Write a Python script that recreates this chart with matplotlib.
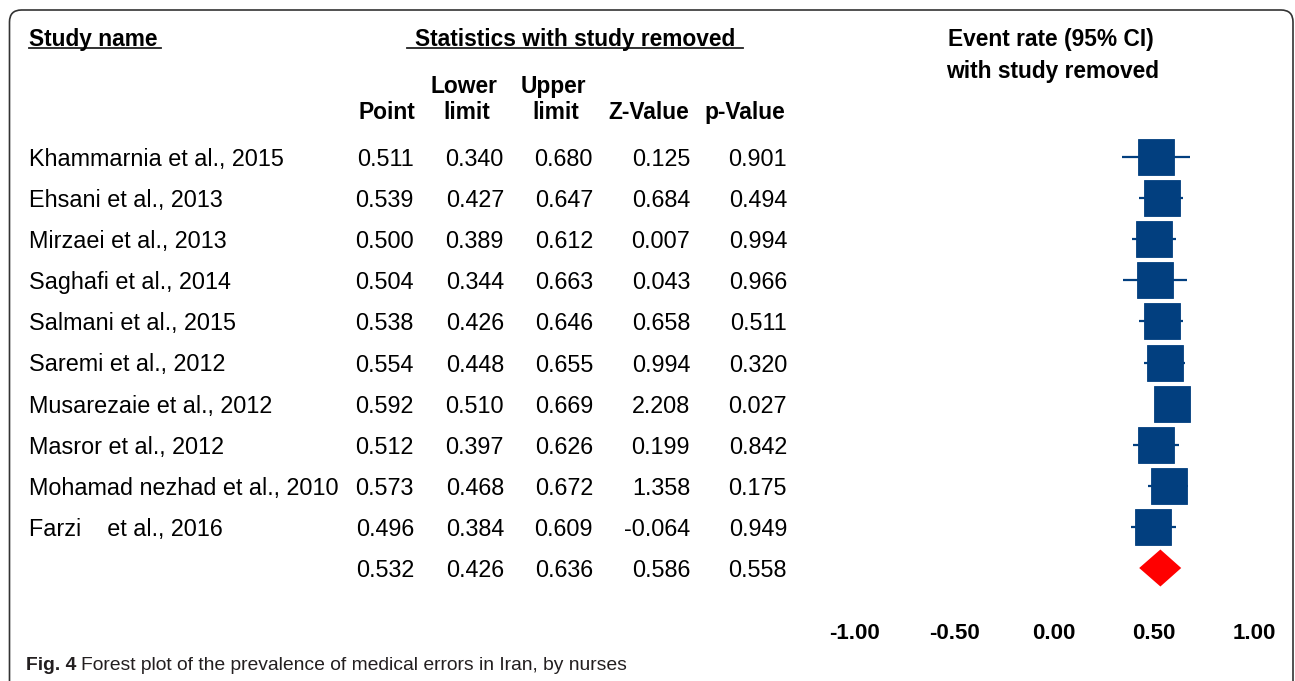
import matplotlib
matplotlib.use("Agg")
import matplotlib.pyplot as plt
import matplotlib.transforms as mtransforms
from matplotlib.patches import FancyBboxPatch

# data
studies = ["Khammarnia et al., 2015", "Ehsani et al., 2013", "Mirzaei et al., 2013",
           "Saghafi et al., 2014", "Salmani et al., 2015", "Saremi et al., 2012",
           "Musarezaie et al., 2012", "Masror et al., 2012", "Mohamad nezhad et al., 2010",
           "Farzi    et al., 2016"]
point = [0.511, 0.539, 0.500, 0.504, 0.538, 0.554, 0.592, 0.512, 0.573, 0.496]
lower = [0.340, 0.427, 0.389, 0.344, 0.426, 0.448, 0.510, 0.397, 0.468, 0.384]
upper = [0.680, 0.647, 0.612, 0.663, 0.646, 0.655, 0.669, 0.626, 0.672, 0.609]
zval = [0.125, 0.684, 0.007, 0.043, 0.658, 0.994, 2.208, 0.199, 1.358, -0.064]
pval = [0.901, 0.494, 0.994, 0.966, 0.511, 0.320, 0.027, 0.842, 0.175, 0.949]
summary = [0.532, 0.426, 0.636, 0.586, 0.558]  # point, lower, upper, z, p
xticks = [-1.0, -0.5, 0.0, 0.5, 1.0]

W, H = 1295, 681
plt.rcParams['font.family'] = ['Liberation Sans', 'DejaVu Sans']
fig = plt.figure(figsize=(W / 100, H / 100), dpi=100)

def px(x):
    return x / W

def py(y):
    return 1 - y / H

# forest axes: x -1..1 between pixel 854 and 1254, rows every 41.1 px from y=157
row0, rowh = 157, 41.1
top_px, bot_px = 120, 618
ax = fig.add_axes([px(854), py(bot_px), 400 / W, (bot_px - top_px) / H])
ax.set_xlim(-1, 1)
ax.set_ylim((bot_px - row0) / rowh, (top_px - row0) / rowh)
for s in ax.spines.values():
    s.set_visible(False)
ax.set_yticks([])
ax.set_xticks(xticks)
ax.set_xticklabels([f"{t:.2f}" for t in xticks], fontweight='bold', fontsize=16)
ax.tick_params(axis='x', length=0, pad=3.5)

navy = '#023f7f'
rows = list(range(len(studies)))
for i in rows:
    ax.plot([lower[i], upper[i]], [i, i], color=navy, lw=1.6, solid_capstyle='butt', zorder=2)
    ax.plot(point[i], i, marker='s', ms=26, color=navy, mec=navy, mew=0.6, zorder=3)

srow = len(studies)
h = 0.45
ax.fill([summary[1], summary[0], summary[2], summary[0]],
        [srow, srow - h, srow, srow + h], color='#ff0000', lw=0, zorder=3)

# table text, rows aligned with the forest axes
tr = mtransforms.blended_transform_factory(fig.transFigure, ax.transData)
fs = 16.8
va = 'center_baseline'
cols_right = [414, 504, 593, 690, 787]
for i in rows:
    ax.text(px(29), i, studies[i], transform=tr, fontsize=fs, va=va, ha='left', clip_on=False)
    vals = [point[i], lower[i], upper[i], zval[i], pval[i]]
    for x, v in zip(cols_right, vals):
        ax.text(px(x), i, f"{v:.3f}", transform=tr, fontsize=fs, va=va, ha='right', clip_on=False)
for x, v in zip(cols_right, summary):
    ax.text(px(x), srow, f"{v:.3f}", transform=tr, fontsize=fs, va=va, ha='right', clip_on=False)

# headers
hfs = 16.4
fig.text(px(29), py(37), "Study name", fontsize=hfs, fontweight='bold', va=va, ha='left')
fig.add_artist(plt.Line2D([px(29), px(161)], [py(48), py(48)], color='#222222', lw=1.3))
fig.text(px(575), py(37), "Statistics with study removed", fontsize=hfs, fontweight='bold',
         va=va, ha='center')
fig.add_artist(plt.Line2D([px(407), px(743)], [py(48), py(48)], color='#222222', lw=1.3))
fig.text(px(1051), py(37), "Event rate (95% CI)", fontsize=hfs, fontweight='bold', va=va, ha='center')
fig.text(px(1053), py(69), "with study removed", fontsize=hfs, fontweight='bold', va=va, ha='center')
fig.text(px(464), py(84), "Lower", fontsize=hfs, fontweight='bold', va=va, ha='center')
fig.text(px(553), py(84), "Upper", fontsize=hfs, fontweight='bold', va=va, ha='center')
for x, lab in zip([387, 467, 556, 649, 745], ["Point", "limit", "limit", "Z-Value", "p-Value"]):
    fig.text(px(x), py(110), lab, fontsize=hfs, fontweight='bold', va=va, ha='center')

# rounded frame, open at the bottom
frame = FancyBboxPatch((0.095, -0.3), 12.835, 6.71 + 0.3, boxstyle='round,pad=0,rounding_size=0.12',
                       transform=fig.dpi_scale_trans, fill=False, ec='#333333', lw=1.2)
fig.add_artist(frame)

# caption
t1 = fig.text(px(26), py(664), "Fig. 4", fontsize=13.9, fontweight='bold',
              va=va, ha='left', color='#231f20')
r = fig.canvas.get_renderer()
bb = t1.get_window_extent(renderer=r)
fig.text(bb.x1 / W + px(5), py(664), "Forest plot of the prevalence of medical errors in Iran, by nurses",
         fontsize=13.9, va=va, ha='left', color='#231f20')

fig.savefig("out.png", dpi=100)
